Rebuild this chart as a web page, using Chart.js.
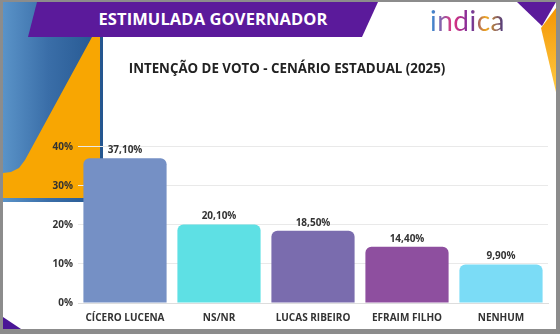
<!DOCTYPE html>
<html>
<head>
<meta charset="utf-8">
<script src="https://cdn.jsdelivr.net/npm/chart.js@4"></script>
<style>
  body { margin: 0; }
  #wrap { position: relative; width: 560px; height: 334px; background: #8c8c8c; overflow: hidden; font-family: "Open Sans", sans-serif; }
  #card { position: absolute; left: 3px; top: 2px; width: 553px; height: 327px; background: #fff; overflow: hidden; }
  .shape { position: absolute; }
  #blue { left: 0; top: 0; width: 100px; height: 200px; background: linear-gradient(90deg, #5a93c8 0%, #3a6ea8 45%, #24568f 100%); }
  #orange { left: 0; top: 0; width: 100px; height: 200px; background: #f8a602;
    clip-path: polygon(89px 35px, 97px 35px, 97px 196px, 0 196px, 0 171px, 8px 170px, 16px 166px, 22px 158px); }
  #banner { left: 0; top: 0; width: 380px; height: 35px; background: #5b1a9b;
    clip-path: polygon(34px 0, 375px 0, 359px 35px, 25px 35px); }
  #bannerText { position: absolute; left: 35px; top: 0; width: 350px; height: 35px; line-height: 33px; text-align: center;
    color: #fff; font-weight: 700; font-size: 16.5px; letter-spacing: 0.1px; }
  #tri1 { left: 0; top: 0; width: 553px; height: 40px; background: #5b1a9b;
    clip-path: polygon(514px 0, 553px 0, 539px 24px); }
  #tri2 { left: 0; top: 0; width: 553px; height: 100px; background: linear-gradient(180deg, #f39200, #ffd04a);
    clip-path: polygon(538px 26px, 553px 6px, 553px 90px); }
  #tri3 { left: 0; top: 0; width: 553px; height: 327px; background: #4a1696;
    clip-path: polygon(0 315px, 18px 327px, 0 327px); }
  #logo { position: absolute; left: 427px; top: 1px; font-family: "Lato", sans-serif; font-size: 28px; font-weight: 400; letter-spacing: 0.5px;
    background: linear-gradient(90deg, #2b8fd6 0%, #e3337e 30%, #6a2ca0 55%, #f2a81d 75%, #3a2a8a 100%);
    -webkit-background-clip: text; background-clip: text; color: transparent; }
  canvas { position: absolute; left: 0; top: 0; }
</style>
</head>
<body>
<div id="wrap">
  <div id="card">
    <div class="shape" id="blue"></div>
    <div class="shape" id="orange"></div>
    <div class="shape" id="banner"></div>
    <div id="bannerText">ESTIMULADA GOVERNADOR</div>
    <div class="shape" id="tri1"></div>
    <div class="shape" id="tri2"></div>
    <div class="shape" id="tri3"></div>
    <div id="logo">indica</div>
  </div>
  <canvas id="chart" width="560" height="334"></canvas>
</div>
<script>
const categories = ['CÍCERO LUCENA', 'NS/NR', 'LUCAS RIBEIRO', 'EFRAIM FILHO', 'NENHUM'];
const values = [37.1, 20.1, 18.5, 14.4, 9.9];
const barColors = ['#7590c5', '#5ee0e4', '#7a6cae', '#8e4f9f', '#7bdcf6'];
const yTicks = [0, 10, 20, 30, 40];

const fmt = v => v.toFixed(2).replace('.', ',') + '%';

const valueLabels = {
    id: 'valueLabels',
    afterDatasetsDraw(chart) {
        const ctx = chart.ctx;
        ctx.save();
        ctx.font = 'bold 10px "Open Sans"';
        ctx.fillStyle = '#333';
        ctx.textAlign = 'center';
        ctx.textBaseline = 'bottom';
        chart.getDatasetMeta(0).data.forEach((bar, i) => {
            ctx.fillText(fmt(values[i]), bar.x, bar.y - 3);
        });
        ctx.restore();
    }
};

new Chart(document.getElementById('chart'), {
    type: 'bar',
    data: {
        labels: categories,
        datasets: [{
            data: values,
            backgroundColor: barColors,
            borderRadius: 6,
            borderSkipped: 'start',
            categoryPercentage: 1,
            barPercentage: 0.885
        }]
    },
    options: {
        responsive: false,
        animation: false,
        layout: { padding: { top: 61, right: 12, bottom: 1, left: 26 } },
        plugins: {
            legend: { display: false },
            tooltip: { enabled: false },
            title: {
                display: true,
                text: 'INTENÇÃO DE VOTO - CENÁRIO ESTADUAL (2025)',
                color: '#222',
                font: { family: 'Open Sans', size: 13.3, weight: 'bold' },
                padding: { top: 0, bottom: 70 }
            }
        },
        scales: {
            x: {
                grid: { display: false, drawTicks: false },
                border: { color: '#ddd' },
                ticks: { color: '#333', padding: 9, font: { family: 'Open Sans', size: 10, weight: 'bold' } }
            },
            y: {
                min: 0,
                max: 40,
                afterFit: s => { s.width = 52; },
                afterBuildTicks: s => { s.ticks = yTicks.map(v => ({ value: v })); },
                grid: { color: '#e9e9e9', drawTicks: false },
                border: { display: false },
                ticks: { color: '#333', padding: 5, font: { family: 'Open Sans', size: 10, weight: 'bold' }, callback: v => v + '%' }
            }
        }
    },
    plugins: [valueLabels]
});
</script>
</body>
</html>
